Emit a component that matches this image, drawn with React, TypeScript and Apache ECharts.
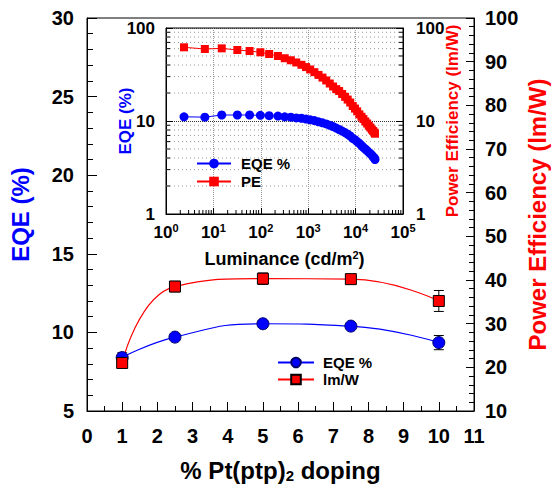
import React, { useEffect, useRef } from "react";
import * as echarts from "echarts";

// ---------- main plot data ----------
const mainDoping = [1, 2.5, 5, 7.5, 10];
const mainEQE = [8.4, 9.7, 10.55, 10.4, 9.35];
const mainEQEErr = [0.3, 0.2, 0.2, 0.15, 0.45];
const mainLmW = [21.0, 38.5, 40.3, 40.2, 35.2];
const mainLmWErr = [1.0, 1.2, 1.3, 1.0, 2.4];

// ---------- inset data ----------
const insetLum = [
  2.4, 6.6, 15, 32, 58, 98, 150, 230, 320, 430, 560, 720, 900, 1100, 1350, 1650,
  2000, 2400, 2850, 3350, 3900, 4500, 5200, 6000, 6800, 7700, 8700, 9700, 10800,
  12000, 13300, 14600, 16000, 17500, 19000, 20500, 22000, 23500, 25000, 25700,
];
const insetEQE = [
  11.1, 11.0, 11.6, 11.6, 11.6, 11.5, 11.4, 11.3, 11.1, 11.0, 10.8, 10.7, 10.5, 10.3,
  10.1, 9.8, 9.55, 9.3, 9.0, 8.7, 8.4, 8.1, 7.8, 7.5, 7.2, 6.9, 6.5, 6.3, 6.0, 5.75,
  5.45, 5.2, 5.0, 4.8, 4.6, 4.45, 4.3, 4.1, 4.0, 3.85,
];
const insetPE = [
  62, 59.5, 60.4, 58, 56.6, 54.8, 52.5, 50.0, 47.3, 45.0, 42.6, 40.2, 38.0, 35.8, 33.5,
  31.3, 29.3, 27.3, 25.3, 23.5, 22.0, 21.0, 19.5, 18.2, 17.0, 15.8, 14.5, 13.6, 12.7,
  11.8, 11.1, 10.5, 9.9, 9.4, 8.9, 8.5, 8.1, 7.8, 7.5, 7.3,
];

// log-axis minor tick positions (2..9 within each decade)
const minorMult = [2, 3, 4, 5, 6, 7, 8, 9];
const insetXDecades = [1, 10, 100, 1000, 10000];
const insetYDecades = [1, 10];

const FONT = "'Liberation Sans', Arial, Helvetica, sans-serif";
const BLUE = "#0000ff";
const RED = "#ff0000";

function errorBarItem(params: any, api: any) {
  const x = api.value(0);
  const lo = api.value(1);
  const hi = api.value(2);
  const p1 = api.coord([x, hi]);
  const p2 = api.coord([x, lo]);
  const w = 5;
  const st = { stroke: "#000", lineWidth: 1 };
  return {
    type: "group",
    children: [
      { type: "line", shape: { x1: p1[0], y1: p1[1], x2: p2[0], y2: p2[1] }, style: st },
      { type: "line", shape: { x1: p1[0] - w, y1: p1[1], x2: p1[0] + w, y2: p1[1] }, style: st },
      { type: "line", shape: { x1: p2[0] - w, y1: p2[1], x2: p2[0] + w, y2: p2[1] }, style: st },
    ],
  };
}

export default function App() {
  const ref = useRef<HTMLDivElement>(null);
  useEffect(() => {
    if (!ref.current) return;
    document.body.style.margin = "0";
    const chart = echarts.init(ref.current, null, { renderer: "svg" });

    const insetXMinor = insetXDecades.flatMap((d) => minorMult.map((m) => m * d));
    const insetYMinor = insetYDecades.flatMap((d) => minorMult.map((m) => m * d));

    const labelStyle = { fontFamily: FONT, fontWeight: "bold" as const, color: "#000" };
    const supRich = { sup: { fontSize: 11, fontWeight: "bold", fontFamily: FONT, color: "#000", padding: [0, 0, 9, 0] } };

    const option: any = {
      animation: false,
      backgroundColor: "#fff",
      textStyle: { fontFamily: FONT },
      grid: [
        { left: 81, right: 75, top: 18, bottom: 78, show: true, borderColor: "#000", borderWidth: 1, backgroundColor: "transparent" },
        { left: 166, right: 154, top: 28, bottom: 275, show: true, borderColor: "#000", borderWidth: 1, backgroundColor: "#fff" },
      ],
      legend: [
        {
          data: ["EQE %", "lm/W"],
          left: 272,
          top: 350,
          orient: "vertical",
          itemWidth: 36,
          itemHeight: 12,
          itemGap: 2,
          selectedMode: false,
          textStyle: { ...labelStyle, fontSize: 15, padding: [0, 0, 0, 4] },
        },
        {
          data: ["insetEQE", "PE"],
          formatter: (n: string) => (n === "insetEQE" ? "EQE %" : n),
          left: 191,
          top: 151,
          orient: "vertical",
          itemWidth: 34,
          itemHeight: 12,
          itemGap: 3,
          selectedMode: false,
          textStyle: { ...labelStyle, fontSize: 15, padding: [0, 0, 0, 5] },
        },
      ],
      xAxis: [
        {
          type: "value",
          gridIndex: 0,
          min: 0,
          max: 11,
          interval: 1,
          axisLine: { lineStyle: { color: "#000", width: 1 } },
          axisTick: { inside: true, length: 9, lineStyle: { color: "#000" } },
          minorTick: { show: true, splitNumber: 2, length: 5, lineStyle: { color: "#000" } },
          splitLine: { show: false },
          axisLabel: { ...labelStyle, fontSize: 20, margin: 15 },
          name: "% Pt(ptp){sub|2} doping",
          nameLocation: "middle",
          nameGap: 47,
          nameMoveOverlap: false,
          nameTextStyle: {
            ...labelStyle,
            fontSize: 24,
            rich: { sub: { fontSize: 15, fontWeight: "bold", fontFamily: FONT, color: "#000", padding: [10, 0, 0, 0] } },
          },
        },
        {
          type: "log",
          logBase: 10,
          gridIndex: 1,
          min: 1,
          max: 100000,
          axisLine: { lineStyle: { color: "#000", width: 1 } },
          axisTick: { inside: true, length: 6, lineStyle: { color: "#000" } },
          splitLine: { show: true, lineStyle: { type: "dotted", color: "#999" } },
          axisLabel: {
            ...labelStyle,
            fontSize: 17,
            margin: 8,
            formatter: (v: number) => "10{sup|" + Math.round(Math.log10(v)) + "}",
            rich: supRich,
          },
          name: "Luminance (cd/m{sup|2})",
          nameLocation: "middle",
          nameGap: 35,
          nameMoveOverlap: false,
          nameTextStyle: { ...labelStyle, fontSize: 18, rich: supRich },
        },
      ],
      yAxis: [
        {
          type: "value",
          gridIndex: 0,
          position: "left",
          min: 5,
          max: 30,
          interval: 5,
          axisLine: { show: true, lineStyle: { color: "#000", width: 1 } },
          axisTick: { show: true, inside: true, length: 10, lineStyle: { color: "#000" } },
          minorTick: { show: true, splitNumber: 5, length: 6, lineStyle: { color: "#000" } },
          splitLine: { show: false },
          axisLabel: { ...labelStyle, fontSize: 20, margin: 13 },
          name: "EQE (%)",
          nameLocation: "middle",
          nameRotate: 90,
          nameGap: 55,
          nameMoveOverlap: false,
          nameTextStyle: { fontFamily: FONT, fontWeight: "bold", fontSize: 24, color: BLUE },
        },
        {
          type: "value",
          gridIndex: 0,
          position: "right",
          min: 10,
          max: 100,
          interval: 10,
          axisLine: { show: true, lineStyle: { color: "#000", width: 1 } },
          axisTick: { show: true, inside: true, length: 8, lineStyle: { color: "#000" } },
          minorTick: { show: true, splitNumber: 5, length: 5, lineStyle: { color: "#000" } },
          splitLine: { show: false },
          axisLabel: { ...labelStyle, fontSize: 20, margin: 11 },
          name: "Power Efficiency (lm/W)",
          nameLocation: "middle",
          nameRotate: 90,
          nameGap: 51,
          nameMoveOverlap: false,
          nameTextStyle: { fontFamily: FONT, fontWeight: "bold", fontSize: 24, color: RED },
        },
        {
          type: "log",
          logBase: 10,
          gridIndex: 1,
          position: "left",
          min: 1,
          max: 100,
          axisLine: { show: true, lineStyle: { color: "#000", width: 1 } },
          axisTick: { show: true, inside: true, length: 7, lineStyle: { color: "#000" } },
          splitLine: { show: true, lineStyle: { type: "dotted", color: "#333" } },
          axisLabel: { ...labelStyle, fontSize: 17, margin: 11 },
          name: "EQE (%)",
          nameLocation: "middle",
          nameRotate: 90,
          nameGap: 32,
          nameMoveOverlap: false,
          nameTextStyle: { fontFamily: FONT, fontWeight: "bold", fontSize: 17, color: BLUE },
        },
        {
          type: "log",
          logBase: 10,
          gridIndex: 1,
          position: "right",
          min: 1,
          max: 100,
          axisLine: { show: true, lineStyle: { color: "#000", width: 1 } },
          axisTick: { show: true, inside: true, length: 7, lineStyle: { color: "#000" } },
          splitLine: { show: false },
          axisLabel: { ...labelStyle, fontSize: 17, margin: 13 },
          name: "Power Efficiency (lm/W)",
          nameLocation: "middle",
          nameRotate: 90,
          nameGap: 41,
          nameMoveOverlap: false,
          nameTextStyle: { fontFamily: FONT, fontWeight: "bold", fontSize: 17, color: RED },
        },
      ],
      series: [
        {
          type: "custom",
          xAxisIndex: 1,
          yAxisIndex: 2,
          silent: true,
          clip: false,
          z: 1,
          data: insetYMinor.map((v) => [1, v]),
          encode: { x: 0, y: 1 },
          renderItem: (params: any, api: any) => {
            const cs = params.coordSys;
            const y = api.coord([1, api.value(1)])[1];
            return {
              type: "group",
              children: [
                { type: "line", shape: { x1: cs.x, y1: y, x2: cs.x + cs.width, y2: y }, style: { stroke: "#999", lineWidth: 1, lineDash: [1, 3] } },
                { type: "line", shape: { x1: cs.x, y1: y, x2: cs.x + 4, y2: y }, style: { stroke: "#000", lineWidth: 1 } },
                { type: "line", shape: { x1: cs.x + cs.width - 4, y1: y, x2: cs.x + cs.width, y2: y }, style: { stroke: "#000", lineWidth: 1 } },
              ],
            };
          },
        },
        {
          type: "custom",
          xAxisIndex: 1,
          yAxisIndex: 2,
          silent: true,
          clip: false,
          z: 1,
          data: insetXMinor.map((v) => [v, 1]),
          encode: { x: 0, y: 1 },
          renderItem: (params: any, api: any) => {
            const cs = params.coordSys;
            const x = api.coord([api.value(0), 1])[0];
            const yb = cs.y + cs.height;
            return { type: "line", shape: { x1: x, y1: yb, x2: x, y2: yb - 4 }, style: { stroke: "#000", lineWidth: 1 } };
          },
        },
        {
          type: "custom",
          xAxisIndex: 0,
          yAxisIndex: 0,
          silent: true,
          z: 2,
          data: mainDoping.map((x, i) => [x, mainEQE[i] - mainEQEErr[i], mainEQE[i] + mainEQEErr[i]]),
          encode: { x: 0, y: [1, 2] },
          renderItem: errorBarItem,
        },
        {
          type: "custom",
          xAxisIndex: 0,
          yAxisIndex: 1,
          silent: true,
          z: 2,
          data: mainDoping.map((x, i) => [x, mainLmW[i] - mainLmWErr[i], mainLmW[i] + mainLmWErr[i]]),
          encode: { x: 0, y: [1, 2] },
          renderItem: errorBarItem,
        },
        {
          name: "EQE %",
          type: "line",
          xAxisIndex: 0,
          yAxisIndex: 0,
          smooth: true,
          z: 3,
          symbol: "circle",
          symbolSize: 12,
          data: mainDoping.map((x, i) => [x, mainEQE[i]]),
          itemStyle: { color: BLUE, borderColor: "#00006a", borderWidth: 1 },
          lineStyle: { color: BLUE, width: 1.2 },
        },
        {
          name: "lm/W",
          type: "line",
          xAxisIndex: 0,
          yAxisIndex: 1,
          smooth: true,
          z: 3,
          symbol: "rect",
          symbolSize: 11,
          data: mainDoping.map((x, i) => [x, mainLmW[i]]),
          itemStyle: { color: RED, borderColor: "#000", borderWidth: 1 },
          lineStyle: { color: RED, width: 1.2 },
        },
        {
          name: "insetEQE",
          type: "line",
          xAxisIndex: 1,
          yAxisIndex: 2,
          z: 3,
          symbol: "circle",
          symbolSize: 9,
          data: insetLum.map((x, i) => [x, insetEQE[i]]),
          itemStyle: { color: BLUE },
          lineStyle: { color: BLUE, width: 1 },
        },
        {
          name: "PE",
          type: "line",
          xAxisIndex: 1,
          yAxisIndex: 3,
          z: 3,
          symbol: "rect",
          symbolSize: 8,
          data: insetLum.map((x, i) => [x, insetPE[i]]),
          itemStyle: { color: RED },
          lineStyle: { color: RED, width: 1 },
        },
      ],
    };
    chart.setOption(option);
    return () => chart.dispose();
  }, []);
  return <div ref={ref} style={{ width: 557, height: 489 }} />;
}
